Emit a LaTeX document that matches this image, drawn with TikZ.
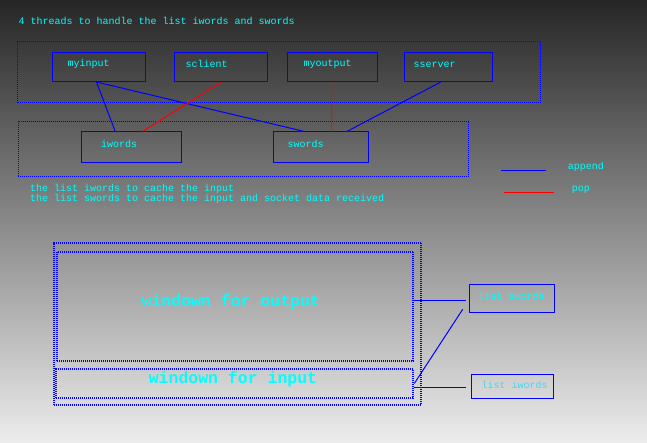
\documentclass[tikz,border=0pt]{standalone}
\usepackage{fontspec}
\setmonofont{Liberation Mono}
\definecolor{txtcyan}{RGB}{0,255,255}
\definecolor{txtlight}{RGB}{70,215,240}
\definecolor{bgtop}{RGB}{38,38,38}
\definecolor{bgbot}{RGB}{236,236,236}
\tikzset{
  box/.style={draw=blue, line width=1pt, minimum width=#1, anchor=north west, inner sep=0},
  dotbox/.style={draw=blue, line width=1pt, dash pattern=on 1pt off 1pt},
  hatchbox/.style={draw=blue, line width=2pt, dash pattern=on 1pt off 1pt, anchor=north west, inner sep=0},
  lbl/.style={text=txtcyan, font=\ttfamily\fontsize{10}{10}\selectfont, anchor=base west, inner sep=0},
  biglbl/.style={text=txtcyan, font=\ttfamily\bfseries\fontsize{16.5}{16.5}\selectfont, anchor=base, inner sep=0},
  conn/.style={blue, line width=1pt},
  popconn/.style={red, line width=1pt},
}
\begin{document}
\begin{tikzpicture}[x=1pt,y=-1pt]
\shade[top color=bgtop, bottom color=bgbot] (0,0) rectangle (647,442);
\useasboundingbox (0,0) rectangle (647,442);

\node[lbl] (title) at (18.5,24) {4 threads to handle the list iwords and swords};

% top group
\draw[dotbox] (17,41.5) rectangle (540.5,102.7);
\node[box=92.5pt, minimum height=29pt] (myinput) at (52,52) {};
\node[box=92.7pt, minimum height=29pt] (sclient) at (174,52) {};
\node[box=89.7pt, minimum height=29pt] (myoutput) at (287,52) {};
\node[box=88pt, minimum height=29pt] (sserver) at (404.3,52) {};
\node[lbl] (tmyinput) at (67.5,66.3) {myinput};
\node[lbl] (tsclient) at (185.5,67.5) {sclient};
\node[lbl] (tmyoutput) at (303.5,66.5) {myoutput};
\node[lbl] (tsserver) at (413.5,67.3) {sserver};

% middle group
\draw[dotbox] (18.3,121.3) rectangle (468.7,176);
\node[box=100pt, minimum height=31pt] (iwords) at (81.3,131.3) {};
\node[box=95pt, minimum height=31pt] (swords) at (273.3,131.3) {};
\node[lbl] (tiwords) at (101,147.5) {iwords};
\node[lbl] (tswords) at (287.5,147.5) {swords};

% connectors
\draw[conn] ([xshift=-2.3pt]myinput.south) -- ([xshift=-16.6pt]iwords.north);
\draw[conn] ([xshift=-2.3pt]myinput.south) -- ([xshift=-17.8pt]swords.north);
\draw[popconn] ([xshift=0.4pt]sclient.south) -- ([xshift=11pt]iwords.north);
\draw[red, line width=0.7pt] ([xshift=-0.5pt]myoutput.south) -- ([xshift=10.5pt]swords.north);
\draw[conn] ([xshift=-8pt]sserver.south) -- ([xshift=25.9pt]swords.north);

% legend
\coordinate (ap1) at (501,170.3);
\coordinate (ap2) at (545.7,170.3);
\coordinate (pp1) at (503.7,192.3);
\coordinate (pp2) at (553.7,192.3);
\draw[conn] (ap1) -- (ap2);
\draw[popconn] (pp1) -- (pp2);
\node[lbl] (tappend) at (567.7,169.3) {append};
\node[lbl] (tpop) at (571.7,191.8) {pop};

\node[lbl] (note1) at (30,191.7) {the list iwords to cache the input};
\node[lbl] (note2) at (30,201.7) {the list swords to cache the input and socket data received};

% bottom windows
\node[hatchbox, minimum width=367.3pt, minimum height=162.3pt] (outer) at (52.7,241.7) {};
\node[hatchbox, minimum width=356.3pt, minimum height=109.3pt] (outwin) at (56,250.7) {};
\node[hatchbox, minimum width=357pt, minimum height=28.4pt] (inwin) at (55.3,368.3) {};
\node[biglbl] (toutwin) at (230.8,306.5) {windown for output};
\node[biglbl] (tinwin) at (233,383.3) {windown for input};

\node[box=84.7pt, minimum height=27.4pt] (lsw) at (469,284.3) {};
\node[box=81.7pt, minimum height=24pt] (liw) at (471,374.3) {};
\node[lbl] (tlsw) at (478.3,299) {list swords};
\node[lbl, text=txtlight] (tliw) at (481.3,388) {list iwords};

\coordinate (e1) at (465.7,300.3);
\coordinate (e2) at (465.7,387.3);
\coordinate (e3) at (462.7,309.3);
\draw[conn] (outwin.east |- e1) -- (e1);
\draw[conn] (inwin.east |- e2) -- (e2);
\draw[conn] (inwin.east) -- (e3);
\end{tikzpicture}
\end{document}
